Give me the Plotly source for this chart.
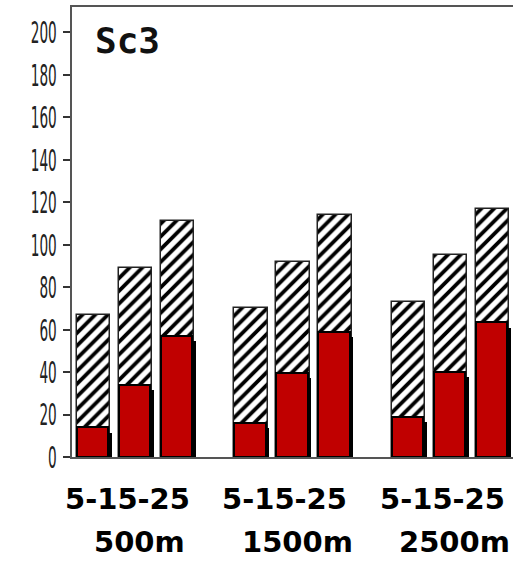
import plotly.graph_objects as go

# ---- data ----
depth_labels = ["500m", "1500m", "2500m"]
size_label = "5-15-25"
sizes = [5, 15, 25]
total_values = [67, 89, 111, 70, 92, 114, 73, 95, 117]
red_values = [14, 34, 57, 16, 39.5, 59, 19, 40, 63.5]
y_ticks = [0, 20, 40, 60, 80, 100, 120, 140, 160, 180, 200]
panel_title = "Sc3"

GROUP_STEP = 3.75
xs = []
for g in range(len(depth_labels)):
    for b in range(len(sizes)):
        xs.append(g * GROUP_STEP + b)

BAR_W = 0.79
RED = "#C00000"

fig = go.Figure()

# hatched total bars
fig.add_trace(go.Bar(
    x=xs, y=total_values, width=BAR_W,
    marker=dict(color="white",
                line=dict(color="#222222", width=1.5),
                pattern=dict(shape="/", fgcolor="#000000", bgcolor="white",
                             fgopacity=1, size=9, solidity=0.42)),
    hoverinfo="skip", showlegend=False,
))

# shadow for red bars
fig.add_trace(go.Bar(
    x=[v + 0.06 for v in xs], y=[v - 1.0 for v in red_values], base=-1.5,
    width=BAR_W - 0.04,
    marker=dict(color="black", line=dict(width=0)),
    hoverinfo="skip", showlegend=False,
))

# red bars
fig.add_trace(go.Bar(
    x=[v - 0.02 for v in xs], y=red_values, width=BAR_W - 0.04,
    marker=dict(color=RED, line=dict(color="black", width=2)),
    hoverinfo="skip", showlegend=False,
))

annotations = [
    dict(text="<b>%s</b>" % panel_title, xref="paper", yref="paper", x=0.048, y=0.925,
         xanchor="left", yanchor="middle", showarrow=False,
         font=dict(family="DejaVu Sans Mono", size=36, color="#111111")),
]
for g, dl in enumerate(depth_labels):
    center = g * GROUP_STEP + 1
    annotations.append(dict(text="<b>%s</b>" % size_label, xref="x", yref="paper",
                            x=center - 0.2, y=-0.093, xanchor="center", yanchor="middle",
                            showarrow=False,
                            font=dict(family="DejaVu Sans", size=29, color="black")))
    annotations.append(dict(text="<b>%s</b>" % dl, xref="x", yref="paper",
                            x=center + 0.1, y=-0.189, xanchor="center", yanchor="middle",
                            showarrow=False,
                            font=dict(family="DejaVu Sans", size=29, color="black")))

fig.update_layout(
    width=513, height=562,
    margin=dict(l=72, r=0, t=7, b=105, autoexpand=False),
    paper_bgcolor="white", plot_bgcolor="white",
    barmode="overlay",
    bargap=0,
    annotations=annotations,
    xaxis=dict(range=[-0.51, 9.99], showticklabels=False, ticks="",
               showgrid=False, zeroline=False, automargin=False,
               showline=True, linecolor="#555555", linewidth=2, mirror=True),
    yaxis=dict(range=[0, 212], tickvals=y_ticks, ticks="outside", ticklen=7,
               tickwidth=1.5, tickcolor="#333333",
               showgrid=False, zeroline=False, automargin=False,
               showline=True, linecolor="#555555", linewidth=2,
               ticklabelstandoff=0,
               tickfont=dict(family="DejaVu Sans", size=31, color="#222222")),
)

post = """
document.body.style.margin='0';
document.body.style.overflow='hidden';
var gd = document.getElementsByClassName('plotly-graph-div')[0];
function squeeze(){
  gd.querySelectorAll('.ytick text').forEach(function(t){
    if (t.getAttribute('data-sq')) return;
    var x = parseFloat(t.getAttribute('x')) || 0;
    var tr = t.getAttribute('transform') || '';
    t.setAttribute('transform', tr + ' translate(' + x + ',0) scale(0.44,1) translate(' + (-x) + ',0)');
    t.setAttribute('data-sq', '1');
  });
}
squeeze();
gd.on('plotly_afterplot', squeeze);
"""

fig.write_html("out.html", post_script=post, config={"displayModeBar": False})
